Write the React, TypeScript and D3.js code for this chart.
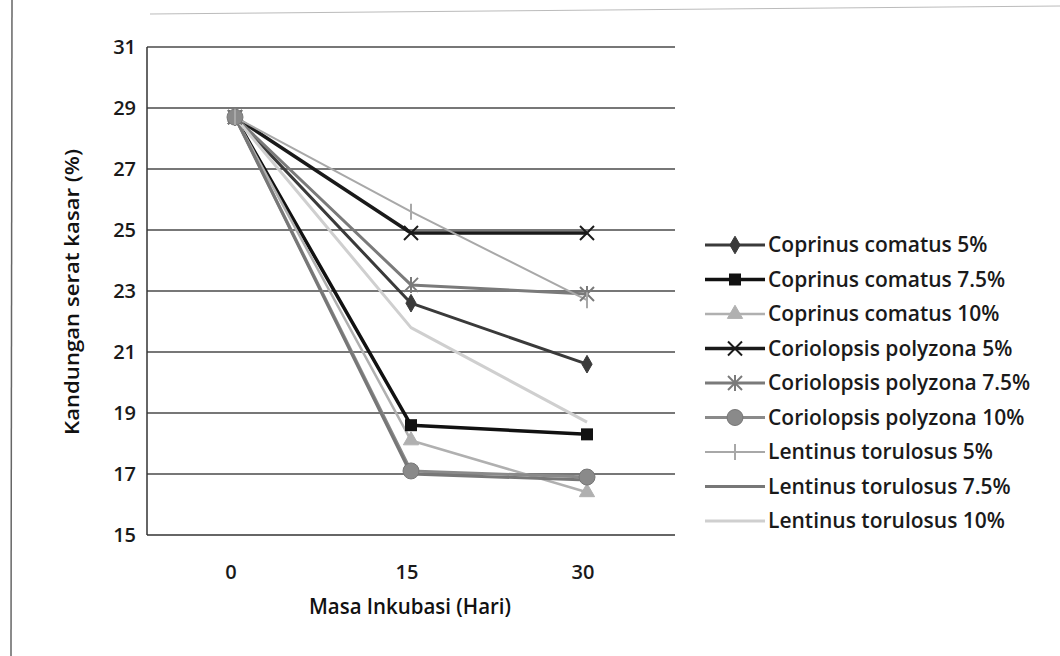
import React from "react";
import * as d3 from "d3";

const days = ["0", "15", "30"];
const yTicks = [15, 17, 19, 21, 23, 25, 27, 29, 31];

const seriesNames = [
  "Coprinus comatus 5%",
  "Coprinus comatus 7.5%",
  "Coprinus comatus 10%",
  "Coriolopsis polyzona 5%",
  "Coriolopsis polyzona 7.5%",
  "Coriolopsis polyzona 10%",
  "Lentinus torulosus 5%",
  "Lentinus torulosus 7.5%",
  "Lentinus torulosus 10%",
];

const coprinus5 = [28.7, 22.6, 20.6];
const coprinus75 = [28.7, 18.6, 18.3];
const coprinus10 = [28.7, 18.1, 16.4];
const coriolopsis5 = [28.7, 24.9, 24.9];
const coriolopsis75 = [28.7, 23.2, 22.9];
const coriolopsis10 = [28.7, 17.1, 16.9];
const lentinus5 = [28.7, 25.6, 22.7];
const lentinus75 = [28.7, 17.0, 16.8];
const lentinus10 = [28.7, 21.8, 18.7];

const seriesValues = [
  coprinus5, coprinus75, coprinus10,
  coriolopsis5, coriolopsis75, coriolopsis10,
  lentinus5, lentinus75, lentinus10,
];

type Style = { color: string; width: number; marker: string };
const styles: Style[] = [
  { color: "#3a3a3a", width: 3, marker: "diamond" },
  { color: "#111111", width: 3.5, marker: "square" },
  { color: "#b0b0b0", width: 2.5, marker: "triangle" },
  { color: "#1a1a1a", width: 3.5, marker: "x" },
  { color: "#7a7a7a", width: 3, marker: "asterisk" },
  { color: "#8a8a8a", width: 3, marker: "circle" },
  { color: "#a8a8a8", width: 2, marker: "tick" },
  { color: "#777777", width: 3, marker: "none" },
  { color: "#cfcfcf", width: 3, marker: "none" },
];

const L = 147, R = 675, T = 47, B = 535;

function Marker({ kind, x, y, color }: { kind: string; x: number; y: number; color: string }) {
  switch (kind) {
    case "diamond":
      return <path d={d3.symbol(d3.symbolDiamond, 90)() as string} transform={`translate(${x},${y})`} fill={color} stroke={color} />;
    case "square":
      return <rect x={x - 6} y={y - 6} width={12} height={12} fill={color} />;
    case "triangle":
      return <path d={d3.symbol(d3.symbolTriangle, 100)() as string} transform={`translate(${x},${y})`} fill={color} stroke={color} />;
    case "circle":
      return <circle cx={x} cy={y} r={8} fill={color} stroke="#777" strokeWidth={1} />;
    case "x":
      return (
        <g stroke={color} strokeWidth={2}>
          <line x1={x - 7} y1={y - 7} x2={x + 7} y2={y + 7} />
          <line x1={x - 7} y1={y + 7} x2={x + 7} y2={y - 7} />
        </g>
      );
    case "asterisk":
      return (
        <g stroke={color} strokeWidth={2}>
          <line x1={x - 7} y1={y - 7} x2={x + 7} y2={y + 7} />
          <line x1={x - 7} y1={y + 7} x2={x + 7} y2={y - 7} />
          <line x1={x} y1={y - 8} x2={x} y2={y + 8} />
        </g>
      );
    case "tick":
      return <line x1={x} y1={y - 8} x2={x} y2={y + 8} stroke={color} strokeWidth={2} />;
    default:
      return null;
  }
}

export default function App() {
  const x = d3.scaleBand<string>().domain(days).range([L, R]).padding(0);
  const y = d3.scaleLinear().domain([15, 31]).range([B, T]);
  const cx = (d: string) => (x(d) as number) + x.bandwidth() / 2;
  const line = d3
    .line<number>()
    .x((_, i) => cx(days[i]))
    .y((v) => y(v));

  const font = "'Open Sans', 'DejaVu Sans', sans-serif";
  const legendX = 705;
  const legendY0 = 245;
  const legendStep = 34.5;

  return (
    <svg width={1060} height={656} style={{ position: "absolute", left: 0, top: 0, background: "#fff" }}>
      <rect width={1060} height={656} fill="#ffffff" />
      {/* scan frame */}
      <line x1={12} y1={0} x2={11} y2={656} stroke="#666" strokeWidth={1.5} />
      <line x1={150} y1={14} x2={1060} y2={6} stroke="#bbb" strokeWidth={1} />

      {/* gridlines */}
      {yTicks.map((t) =>
        t === 15 ? null : (
          <line key={t} x1={L} x2={R} y1={y(t)} y2={y(t)} stroke="#4a4a4a" strokeWidth={1.5} />
        )
      )}
      {/* axes */}
      <line x1={L} x2={L} y1={T} y2={B} stroke="#333" strokeWidth={1.5} />
      <line x1={L} x2={R} y1={B} y2={B} stroke="#333" strokeWidth={1.5} />

      {/* y tick labels */}
      {yTicks.map((t) => (
        <text key={t} x={136} y={y(t)} dy="0.35em" textAnchor="end" fontFamily={font} fontSize={20} fontWeight={600} fill="#1a1a1a">
          {t}
        </text>
      ))}
      {/* x tick labels */}
      {days.map((d) => (
        <text key={d} x={cx(d) - 4} y={572} dy="0.35em" textAnchor="middle" fontFamily={font} fontSize={20} fontWeight={600} fill="#1a1a1a">
          {d}
        </text>
      ))}

      {/* axis titles */}
      <text x={410} y={606} dy="0.35em" textAnchor="middle" fontFamily={font} fontWeight={600} fontSize={22} fill="#111" textLength={202} lengthAdjust="spacingAndGlyphs">
        Masa Inkubasi (Hari)
      </text>
      <text transform="translate(72,292) rotate(-90)" textAnchor="middle" dy="0.35em" fontFamily={font} fontWeight={600} fontSize={20} fill="#111" textLength={286} lengthAdjust="spacingAndGlyphs">
        Kandungan serat kasar (%)
      </text>

      {/* series lines */}
      {seriesValues.map((vals, i) => (
        <path key={i} d={line(vals) as string} fill="none" stroke={styles[i].color} strokeWidth={styles[i].width} strokeLinejoin="round" />
      ))}
      {/* markers */}
      {seriesValues.map((vals, i) =>
        vals.map((v, j) => <Marker key={`${i}-${j}`} kind={styles[i].marker} x={cx(days[j])} y={y(v)} color={styles[i].color} />)
      )}

      {/* legend */}
      {seriesNames.map((name, i) => {
        const ly = legendY0 + i * legendStep;
        return (
          <g key={name}>
            <line x1={legendX} x2={legendX + 60} y1={ly} y2={ly} stroke={styles[i].color} strokeWidth={styles[i].width} />
            <Marker kind={styles[i].marker} x={legendX + 30} y={ly} color={styles[i].color} />
            <text x={legendX + 63} y={ly} dy="0.35em" fontFamily={font} fontSize={21} fontWeight={600} fill="#1a1a1a">
              {name}
            </text>
          </g>
        );
      })}
    </svg>
  );
}
